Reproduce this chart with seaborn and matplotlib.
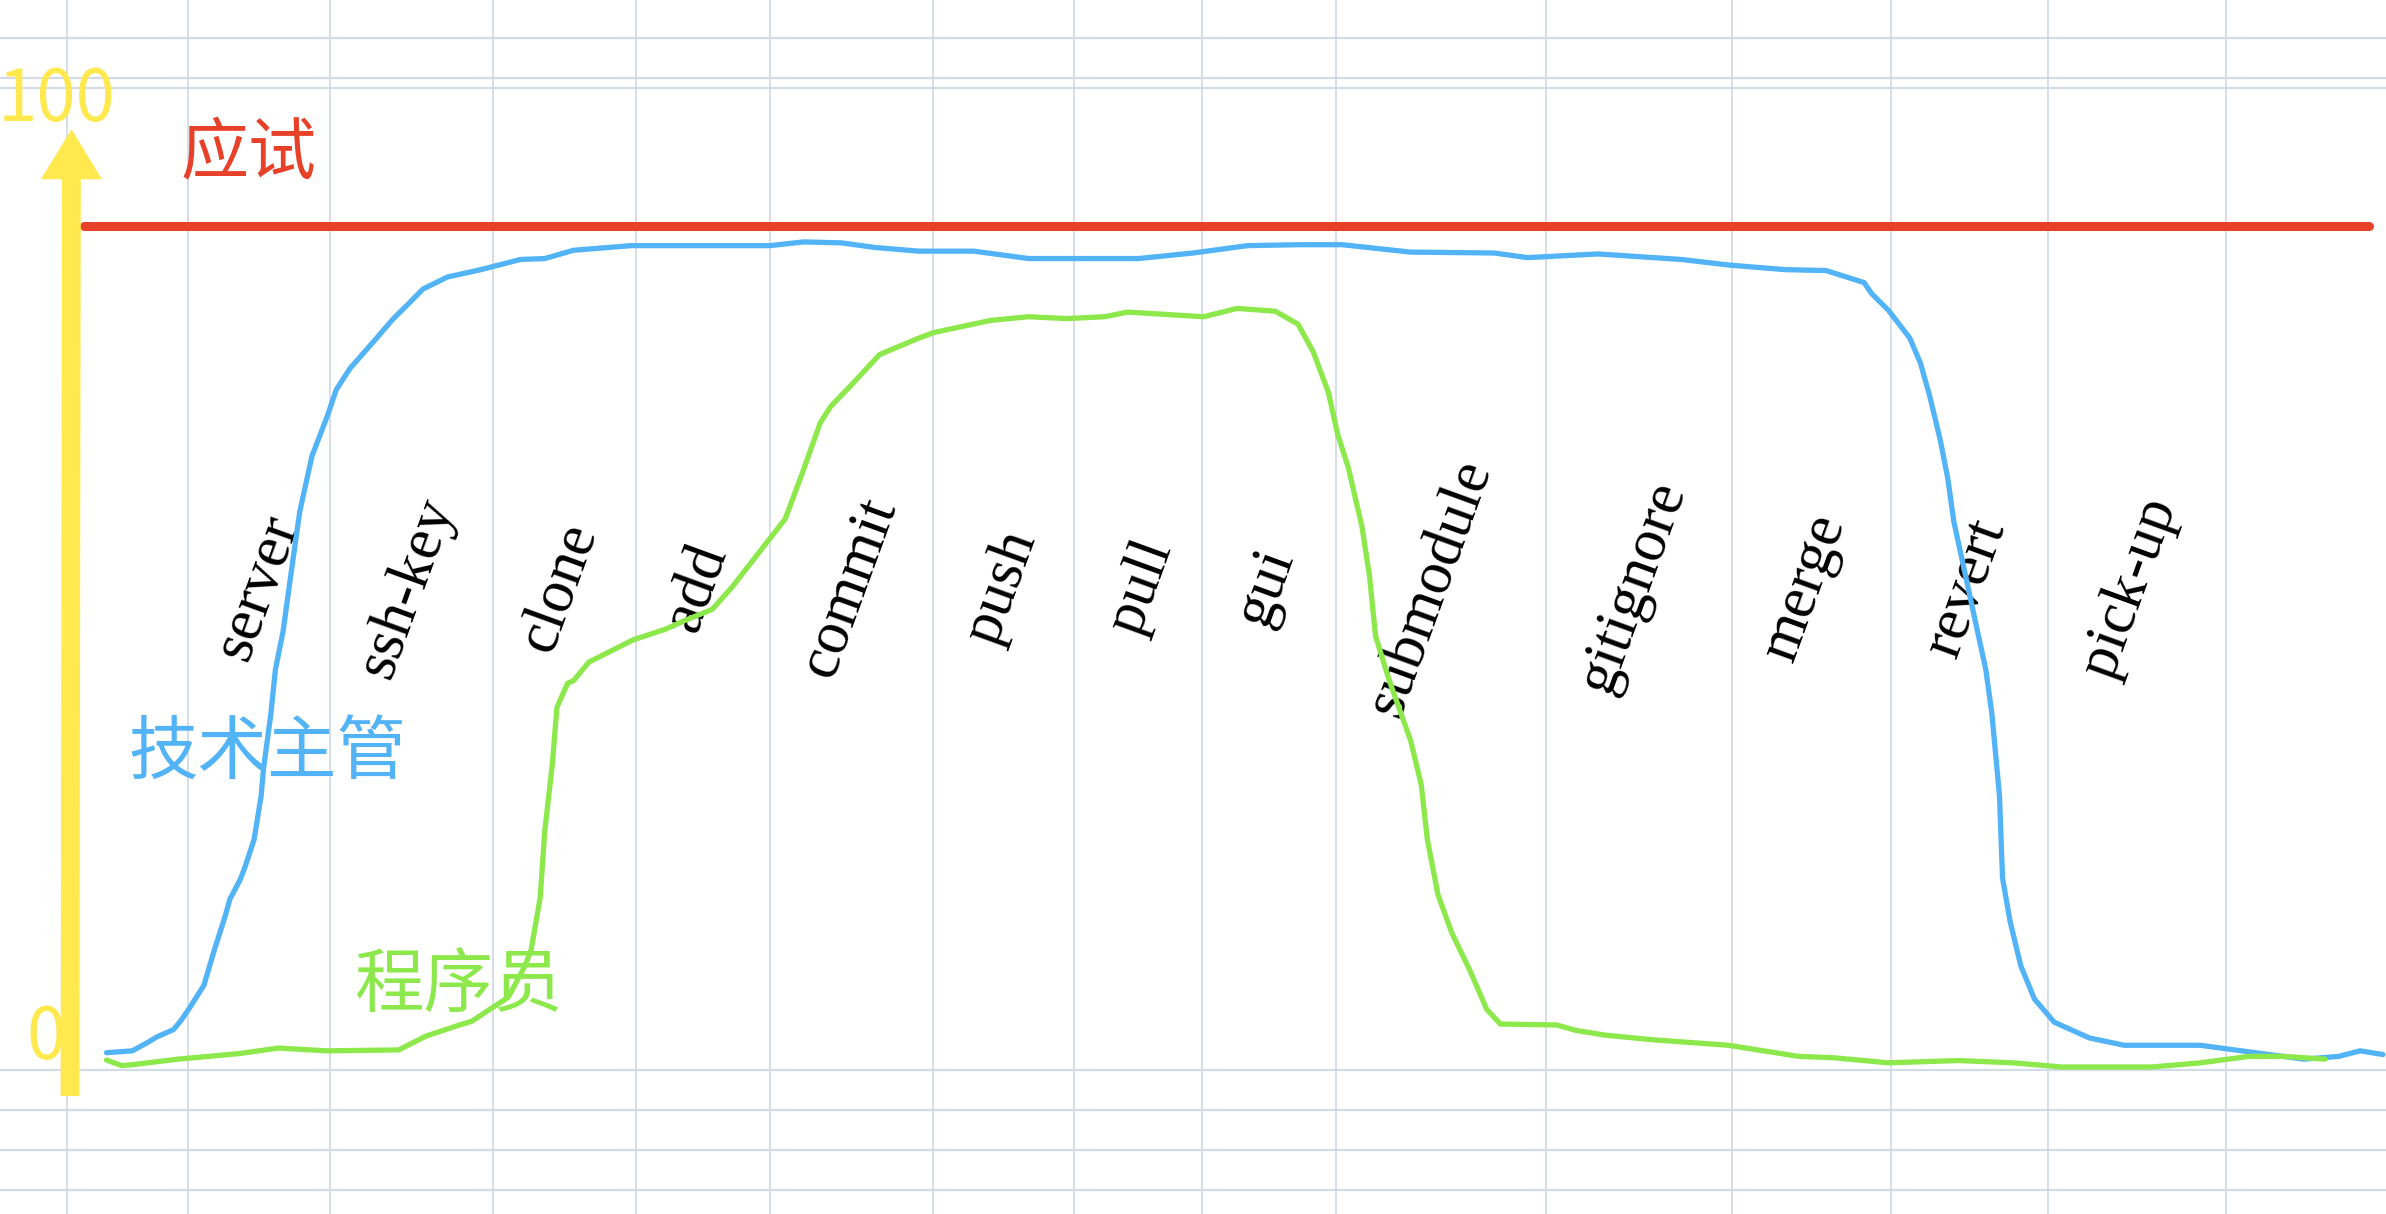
import numpy as np
import pandas as pd
import matplotlib
matplotlib.use("Agg")
import matplotlib.pyplot as plt
import seaborn as sns

# ── data (x: position along the learning path, y: mastery 0..100) ──
topics = ["server", "ssh-key", "clone", "add", "commit", "push", "pull", "gui",
          "submodule", "gitignore", "merge", "revert", "pick-up"]
topic_x = [170, 268, 368, 458, 558, 658, 750, 832, 940, 1073, 1186, 1292, 1400]

lead_x = [70, 87, 97, 103, 114, 119, 124, 134, 141, 148, 151, 158, 161, 167,
          171.6, 173.2, 178, 181, 186, 191, 197, 205, 215, 221, 230, 246, 258,
          269, 278, 294, 316, 342, 358, 377, 415, 454, 506, 528, 553, 575, 604,
          640, 676, 748, 784, 820, 854, 882, 927, 982, 1004, 1050, 1105, 1136,
          1173, 1200, 1225, 1230, 1241, 1255, 1262, 1268, 1275, 1280, 1284,
          1291, 1298, 1305, 1309, 1314, 1316, 1321, 1328, 1337, 1350, 1373,
          1396, 1446, 1473, 1514, 1537, 1551, 1566]
lead_y = [0.5, 0.7, 1.6, 2.2, 3.0, 4.0, 5.2, 7.8, 11.7, 15.3, 17.1, 19.3, 20.6,
          23.6, 28.3, 31.3, 37.2, 42.0, 46.1, 52.1, 59.1, 65.1, 69.4, 72.3,
          74.6, 77.6, 79.9, 81.7, 83.2, 84.5, 85.3, 86.4, 86.5, 87.4, 87.9,
          87.9, 87.9, 88.3, 88.2, 87.7, 87.3, 87.3, 86.5, 86.5, 87.1, 87.9,
          88.0, 88.0, 87.2, 87.1, 86.6, 87.0, 86.4, 85.8, 85.3, 85.2, 83.9,
          82.7, 80.9, 77.9, 75.2, 71.7, 66.9, 62.7, 58.0, 52.7, 47.3, 42.0,
          37.2, 28.3, 19.4, 14.7, 9.9, 6.3, 3.8, 2.1, 1.3, 1.3, 0.7, -0.2, 0.1,
          0.7, 0.3]

dev_x = [70, 80, 87, 117, 157, 183, 215, 262, 280, 302, 310, 334, 345, 349,
         355, 358, 363, 366, 373, 377, 387, 416, 438, 450, 468, 481, 498, 516,
         528, 539, 546, 560, 578, 604, 614, 651, 676, 701, 726, 741, 791, 813,
         838, 853, 863, 873, 879, 886, 895, 900, 904, 913, 927, 934, 938, 945,
         954, 966, 977, 986, 1023, 1036, 1055, 1086, 1136, 1182, 1205, 1241,
         1287, 1323, 1355, 1414, 1446, 1478, 1501, 1528]
dev_y = [-0.3, -0.9, -0.8, -0.2, 0.4, 1.0, 0.7, 0.8, 2.3, 3.5, 3.9, 6.5, 9.9,
         11.6, 17.3, 24.5, 31.8, 37.9, 40.5, 40.8, 42.8, 45.2, 46.4, 47.3,
         48.5, 50.9, 54.5, 58.3, 63.6, 68.7, 70.5, 72.9, 76.1, 77.9, 78.5,
         79.8, 80.2, 80.0, 80.2, 80.7, 80.2, 81.1, 80.8, 79.4, 76.4, 72.0,
         67.5, 63.9, 57.5, 52.1, 45.6, 40.8, 34.3, 29.5, 23.6, 17.6, 13.5, 9.4,
         5.2, 3.6, 3.5, 2.9, 2.4, 1.9, 1.3, 0.1, -0.05, -0.6, -0.35, -0.6,
         -1.05, -1.05, -0.6, 0.1, 0.1, -0.2]

exam_level = 90
exam_x_range = [55, 1557]

# notebook paper grid
grid_x = [43.8, 123.5, 217, 324, 418, 506, 613, 706, 790, 878, 1016, 1138,
          1243, 1346, 1463]
grid_y = [110.4, 106.1, 105.0, -1.35, -5.68, -10.02, -14.35]

df = pd.concat([
    pd.DataFrame({"x": lead_x, "y": lead_y, "who": "技术主管"}),
    pd.DataFrame({"x": dev_x, "y": dev_y, "who": "程序员"}),
])

# ── style ──
sns.set_theme(style="white")
plt.rcParams['font.family'] = ['Noto Sans CJK SC', 'DejaVu Sans']

BLUE = "#52B4F7"
GREEN = "#8DE84B"
RED = "#E8412A"
YELLOW = "#FFE94F"
GRID = "#D3DBE7"

fig = plt.figure(figsize=(23.86, 12.14), dpi=100)
ax = fig.add_axes([0, 0, 1, 1])
ax.set_xlim(0, 1568)
ax.set_ylim(-16.97, 114.5)

ax.set_xticks(grid_x)
ax.set_yticks(grid_y)
ax.tick_params(length=0, labelbottom=False, labelleft=False)
ax.xaxis.grid(True, color=GRID, lw=1.3)
ax.yaxis.grid(True, color=GRID, lw=1.6)
for s in ax.spines.values():
    s.set_visible(False)

# topic labels
for name, x in zip(topics, topic_x):
    ax.text(x, 50.9, name, rotation=70, ha="center", va="center",
            fontsize=44, family=["Liberation Serif", "DejaVu Serif"],
            color="black", zorder=3)

# exam line
ax.hlines(exam_level, exam_x_range[0], exam_x_range[1], color=RED, lw=6.5,
          zorder=4, capstyle="round")

# curves
sns.lineplot(data=df, x="x", y="y", hue="who",
             palette={"技术主管": BLUE, "程序员": GREEN},
             sort=False, estimator=None, legend=False, ax=ax, zorder=5)
for ln in ax.lines:
    ln.set_linewidth(3.8)
    ln.set_solid_capstyle("round")
    ln.set_solid_joinstyle("round")
ax.set_xlabel("")
ax.set_ylabel("")

# yellow axis arrow
ax.annotate("", xy=(47, 100.5), xytext=(46, -4.2),
            arrowprops=dict(arrowstyle="simple,head_width=44,head_length=36,tail_width=13.5",
                            mutation_scale=1, color=YELLOW, lw=0,
                            shrinkA=0, shrinkB=0),
            zorder=6)

# texts
ax.text(37, 103.6, "100", color=YELLOW, fontsize=51, ha="center", va="center",
        fontweight="light", zorder=7)
ax.text(30, 2.0, "0", color=YELLOW, fontsize=51, ha="center", va="center",
        fontweight="light", zorder=7)
ax.text(163, 97.7, "应试", color=RED, fontsize=49, ha="center", va="center",
        fontweight="light", zorder=7)
ax.text(176, 32.8, "技术主管", color=BLUE, fontsize=50, ha="center", va="center",
        fontweight="light", zorder=4)
ax.text(301, 7.6, "程序员", color=GREEN, fontsize=50, ha="center", va="center",
        fontweight="light", zorder=4)

fig.savefig("out.png", dpi=100, facecolor="white")
